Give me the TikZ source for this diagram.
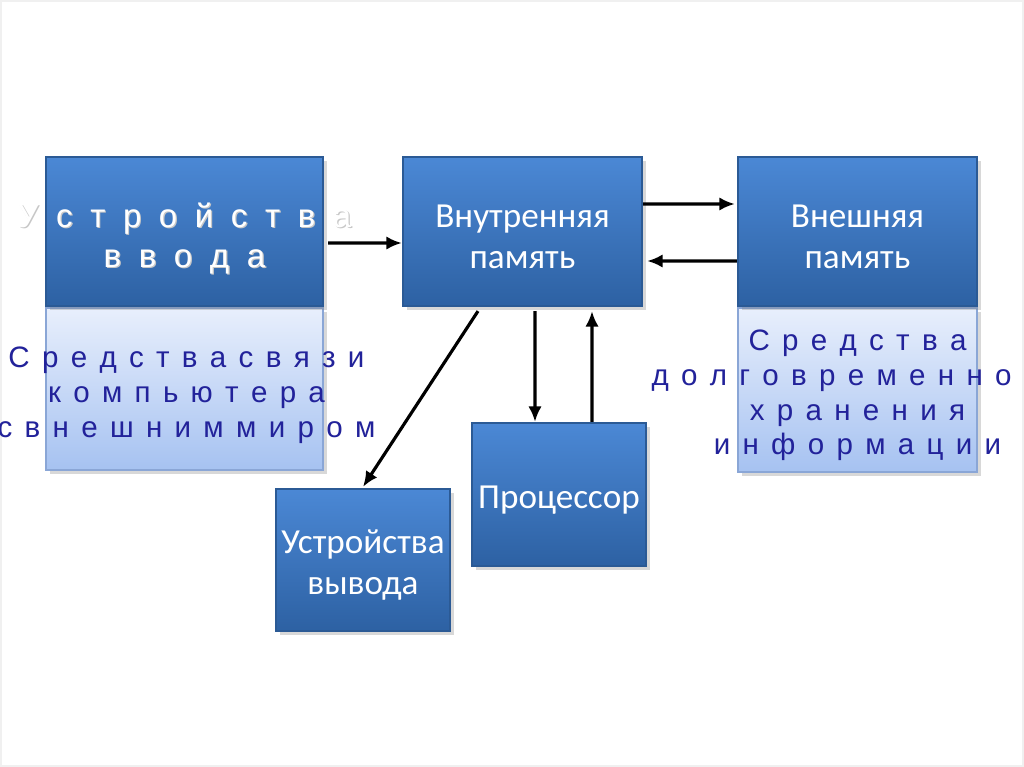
\documentclass[tikz,border=0pt]{standalone}
\usepackage{fontspec}
\setmainfont{Carlito}
\newfontfamily\arialfont{Liberation Sans}
\usepackage{tikz}
\usetikzlibrary{arrows.meta,calc,positioning,shadows}
\definecolor{blokverh}{HTML}{4B88D5}
\definecolor{bloknizh}{HTML}{2D61A3}
\definecolor{blokrama}{HTML}{2B5A95}
\definecolor{svetverh}{HTML}{E8EFFC}
\definecolor{svetniz}{HTML}{A6C2F1}
\definecolor{svetrama}{HTML}{8AA6D6}
\definecolor{tekstsin}{HTML}{22229A}
\newcommand\vniz{\rule{0pt}{9.4pt}}
\tikzset{
    blok/.style={rectangle,draw=blokrama,line width=0.6pt,top color=blokverh,bottom color=bloknizh,
        text=white,font=\fontsize{10}{11.6}\selectfont,align=center,inner sep=0pt,
        drop shadow={shadow xshift=1.2pt,shadow yshift=-1.2pt,opacity=0.3}},
    svetblok/.style={rectangle,draw=svetrama,line width=0.6pt,top color=svetverh,bottom color=svetniz,
        inner sep=0pt,drop shadow={shadow xshift=1.2pt,shadow yshift=-1.2pt,opacity=0.3}},
    razryadka/.style={align=center,inner sep=0pt,font=\arialfont\fontsize{9.4}{11.2}\selectfont,
        execute at begin node={\spaceskip=5pt\relax}},
    melkij/.style={align=center,inner sep=0pt,text=tekstsin,font=\arialfont\fontsize{8.4}{9.9}\selectfont,
        execute at begin node={\spaceskip=3.5pt\relax}},
    strelka/.style={-{Latex[length=4.4pt,width=3.8pt]},line width=0.9pt,draw=black}
}
\begin{document}
\begin{tikzpicture}[x=0.01cm,y=-0.01cm]
          % рамка слайда
          \useasboundingbox (0,0) rectangle (1024,767);
          \fill[white] (0,0) rectangle (1024,767);
          \draw[black!6,line width=0.5pt] (1,1) rectangle (1023,766);
          % блоки
          \node[svetblok,minimum width=2.77cm,minimum height=1.62cm] (svyaz) at (184.5,389) {};
          \node[svetblok,minimum width=2.39cm,minimum height=1.64cm] (hran) at (857.5,390) {};
          \node[blok,minimum width=2.77cm,minimum height=1.49cm] (vvod) at (184.5,231.5) {};
          \node[blok,minimum width=2.39cm,minimum height=1.49cm] (vnutr) at (522.5,231.5) {\vniz Внутренняя\\память};
          \node[blok,minimum width=2.39cm,minimum height=1.49cm] (vnesh) at (857.5,231.5) {\vniz Внешняя\\память};
          \node[blok,minimum width=1.74cm,minimum height=1.43cm] (proc) at (559,494.5) {\vniz Процессор};
          \node[blok,minimum width=1.74cm,minimum height=1.42cm] (vyvod) at (363,560) {\vniz Устройства\\вывода};
          % подписи с разрядкой
          \node[razryadka,text=black!22] (vvodten) at ($(vvod)+(1.2,8.2)$) {У с т р о й с т в а\\в в о д а};
          \node[razryadka,text=white] (vvodtxt) at ($(vvod)+(0,7)$) {У с т р о й с т в а\\в в о д а};
          \node[melkij] (svyaztxt) at ($(svyaz)+(2,6)$) {С р е д с т в а с в я з и\\к о м п ь ю т е р а\\с в н е ш н и м м и р о м};
          \node[melkij] (hrantxt) at ($(hran)+(0,5.5)$) {С р е д с т в а\\д о л г о в р е м е н н о г о\\х р а н е н и я\\и н ф о р м а ц и и};
          % связи
          \draw[strelka] ([shift={(4,11.5)}]vvod.east) -- ([yshift=-0.115cm]vnutr.west);
          \draw[strelka] ([yshift=0.275cm]vnutr.east) -- ([shift={(-2,-27.5)}]vnesh.west);
          \draw[strelka] ([yshift=-0.295cm]vnesh.west) -- ([shift={(4,29.5)}]vnutr.east);
          \draw[strelka] ([shift={(-44.5,4)}]vnutr.south) -- ([shift={(0,-1)}]vyvod.north);
          \draw[strelka] ([shift={(12.5,4)}]vnutr.south) -- ([xshift=-0.24cm]proc.north);
          \draw[strelka] ([xshift=0.33cm]proc.north) -- ([shift={(69.5,4)}]vnutr.south);
        \end{tikzpicture}
\end{document}
